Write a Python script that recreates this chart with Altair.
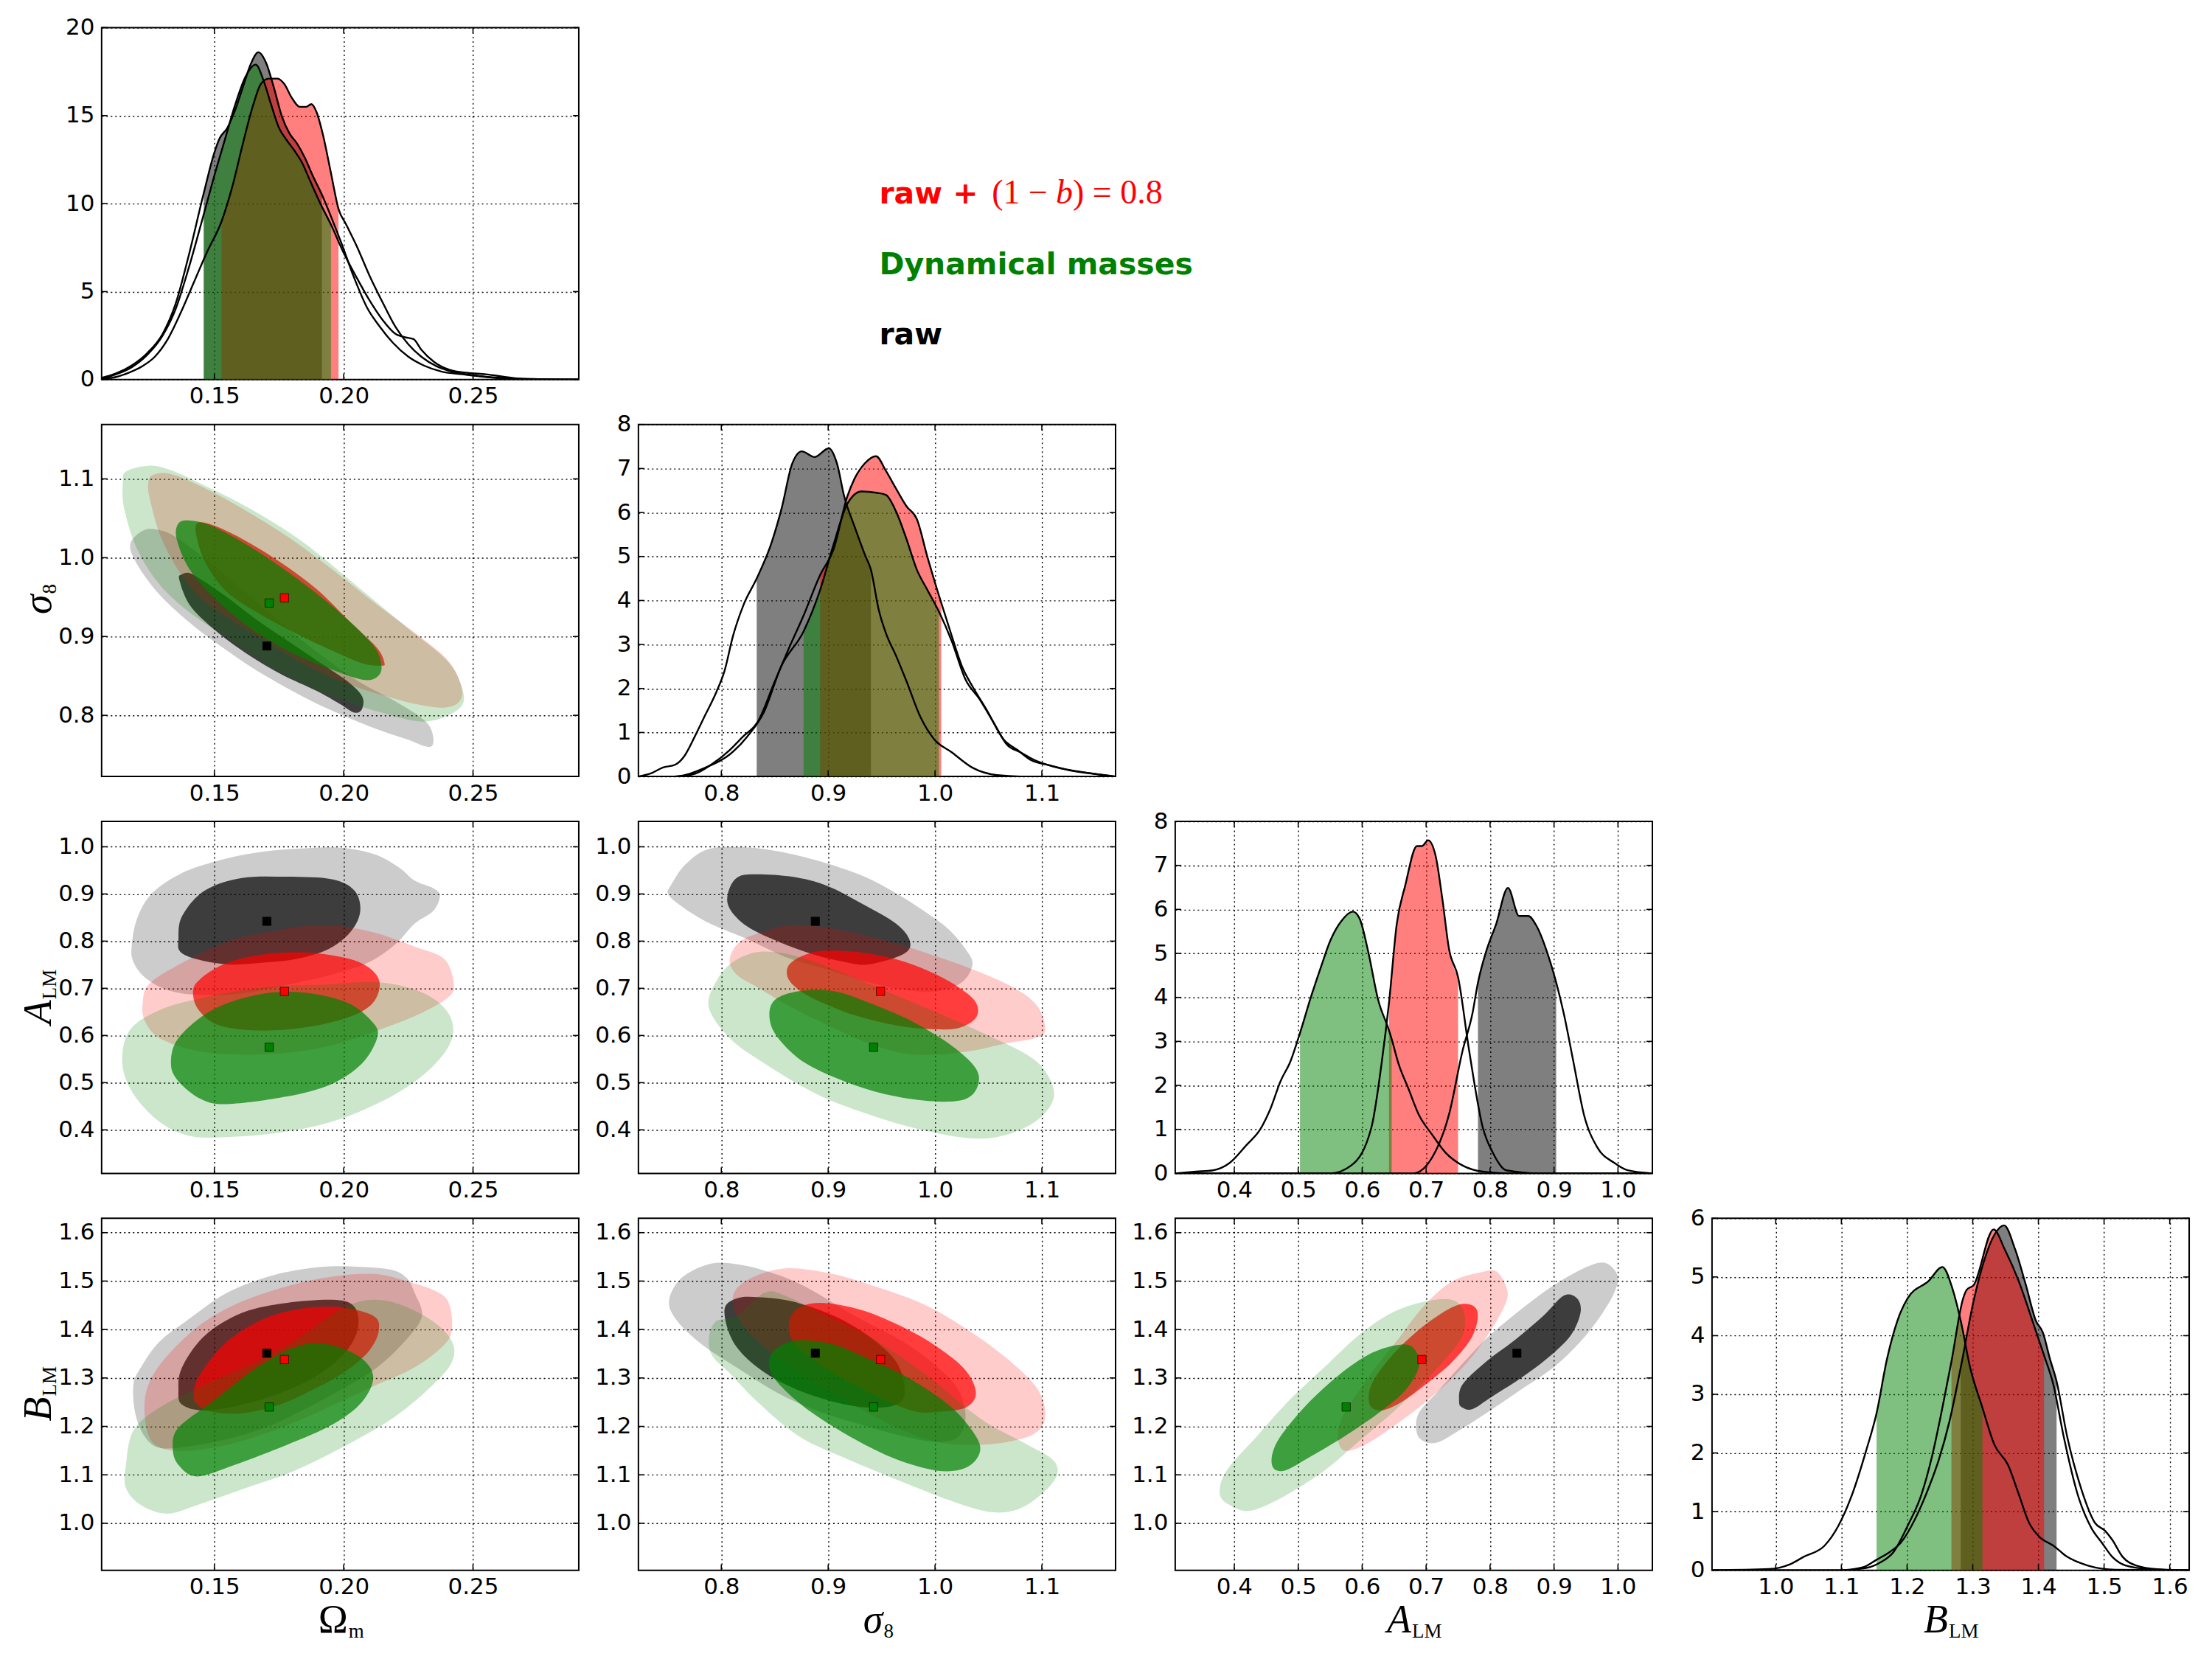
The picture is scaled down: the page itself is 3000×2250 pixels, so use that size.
import altair as alt
import pandas as pd

# panel geometry (pixels)
W, H = 648, 478
GAP_X, GAP_Y = 81, 61
LEFT, TOP = 136, 34
CANVAS_W, CANVAS_H = 3000, 2250
TICK_LEN = 8

# ---------------- parameter ranges and ticks ----------------
OM_RANGE = [0.1064, 0.2909]
S8_RANGE = [0.7224, 1.1690]
ALM_RANGE = [0.3077, 1.0538]
BLM_RANGE = [0.9030, 1.6296]
OM_TICKS = [0.15, 0.20, 0.25]
S8_TICKS = [0.8, 0.9, 1.0, 1.1]
ALM_TICKS = [0.4, 0.5, 0.6, 0.7, 0.8, 0.9, 1.0]
BLM_TICKS = [1.0, 1.1, 1.2, 1.3, 1.4, 1.5, 1.6]

OM_PDF_TICKS = [0, 5, 10, 15, 20]
S8_PDF_TICKS = [0, 1, 2, 3, 4, 5, 6, 7, 8]
ALM_PDF_TICKS = [0, 1, 2, 3, 4, 5, 6, 7, 8]
BLM_PDF_TICKS = [0, 1, 2, 3, 4, 5, 6]

# samples: raw, raw + (1-b)=0.8, dynamical masses
SAMPLE_COLORS = ["black", "red", "green"]

# best-fit values (Omega_m, sigma_8, A_LM, B_LM)
RAW_BEST = [0.1703, 0.8880, 0.8420, 1.3510]
BIAS_BEST = [0.1771, 0.9490, 0.6935, 1.3380]
DYN_BEST = [0.1712, 0.9425, 0.5750, 1.2400]

# ---------------- 1D marginal posteriors ----------------
OM_RAW_PDF = [(0.1064, 0.1), (0.112, 0.35), (0.118, 0.8), (0.124, 1.5), (0.130, 2.6), (0.135, 4.3),
              (0.140, 7.0), (0.1459, 10.6), (0.150, 12.9), (0.152, 13.7), (0.155, 14.3), (0.158, 15.3),
              (0.161, 16.6), (0.164, 17.9), (0.167, 18.6), (0.170, 18.0), (0.173, 16.6), (0.176, 15.0),
              (0.179, 14.0), (0.182, 13.4), (0.185, 12.6), (0.188, 11.6), (0.1916, 10.5), (0.195, 9.3),
              (0.199, 7.8), (0.204, 5.8), (0.209, 4.1), (0.214, 3.0), (0.219, 2.1), (0.225, 1.3),
              (0.231, 0.8), (0.238, 0.45), (0.246, 0.3), (0.255, 0.15), (0.265, 0.05), (0.2909, 0.0)]
OM_RAW_CI = (0.1459, 0.1916)
OM_BIAS_PDF = [(0.1064, 0.02), (0.112, 0.15), (0.117, 0.4), (0.122, 0.75), (0.127, 1.3), (0.132, 2.3),
               (0.137, 3.8), (0.142, 5.5), (0.147, 7.2), (0.1528, 9.0), (0.157, 11.0), (0.161, 13.4),
               (0.165, 15.6), (0.168, 16.8), (0.171, 17.1), (0.1745, 17.1), (0.177, 16.8), (0.180, 16.0),
               (0.183, 15.5), (0.1855, 15.5), (0.1875, 15.65), (0.1895, 15.2), (0.192, 13.9), (0.195, 11.8),
               (0.198, 9.7), (0.201, 8.8), (0.205, 7.6), (0.210, 5.9), (0.215, 4.4), (0.220, 3.0),
               (0.225, 2.0), (0.230, 1.3), (0.236, 0.75), (0.242, 0.45), (0.250, 0.25), (0.258, 0.12),
               (0.268, 0.04), (0.2909, 0.0)]
OM_BIAS_CI = (0.1528, 0.198)
OM_DYN_PDF = [(0.1064, 0.05), (0.112, 0.3), (0.118, 0.7), (0.124, 1.4), (0.130, 2.5), (0.135, 4.0),
              (0.140, 6.3), (0.1459, 9.4), (0.150, 11.6), (0.154, 13.6), (0.158, 15.6), (0.162, 17.2),
              (0.166, 17.9), (0.169, 17.0), (0.172, 15.6), (0.175, 14.3), (0.178, 13.6), (0.181, 13.0),
              (0.184, 12.3), (0.187, 11.3), (0.191, 10.0), (0.1951, 8.8), (0.200, 7.2), (0.205, 5.8),
              (0.210, 4.5), (0.215, 3.4), (0.220, 2.6), (0.224, 2.4), (0.227, 2.3), (0.230, 1.7),
              (0.235, 1.0), (0.241, 0.55), (0.248, 0.38), (0.255, 0.3), (0.260, 0.2), (0.268, 0.06),
              (0.2909, 0.0)]
OM_DYN_CI = (0.1459, 0.1951)

S8_RAW_PDF = [(0.7224, 0.0), (0.735, 0.08), (0.745, 0.2), (0.757, 0.27), (0.765, 0.45), (0.775, 0.9),
              (0.785, 1.4), (0.795, 1.9), (0.803, 2.4), (0.811, 3.2), (0.8208, 3.9), (0.8331, 4.5),
              (0.8468, 5.3), (0.8565, 6.1), (0.8662, 7.1), (0.8753, 7.39), (0.8873, 7.26), (0.9006, 7.46),
              (0.9084, 7.1), (0.915, 6.37), (0.9247, 5.68), (0.9344, 5.04), (0.940, 4.7), (0.9474, 3.78),
              (0.954, 3.26), (0.9636, 2.74), (0.9734, 2.16), (0.9864, 1.35), (0.9994, 0.84), (1.0156, 0.55),
              (1.035, 0.2), (1.058, 0.03), (1.08, 0.0), (1.169, 0.0)]
S8_RAW_CI = (0.8331, 0.940)
S8_BIAS_PDF = [(0.7224, 0.0), (0.756, 0.0), (0.775, 0.06), (0.79, 0.26), (0.8078, 0.6), (0.82, 0.9),
               (0.834, 1.24), (0.85, 2.16), (0.863, 2.9), (0.877, 3.66), (0.8925, 4.58), (0.905, 5.16),
               (0.918, 6.37), (0.9247, 6.77), (0.9344, 7.12), (0.9448, 7.28), (0.954, 6.95), (0.9636, 6.54),
               (0.9734, 6.14), (0.983, 5.85), (0.9929, 4.99), (1.0036, 4.12), (1.0058, 3.95), (1.0156, 3.2),
               (1.0253, 2.5), (1.035, 2.05), (1.048, 1.53), (1.0643, 0.84), (1.0773, 0.6), (1.09, 0.37),
               (1.1065, 0.26), (1.126, 0.14), (1.1487, 0.06), (1.169, 0.0)]
S8_BIAS_CI = (0.8925, 1.0058)
S8_DYN_PDF = [(0.7224, 0.0), (0.756, 0.0), (0.785, 0.2), (0.8078, 0.5), (0.824, 0.9), (0.84, 1.47),
              (0.856, 2.5), (0.877, 3.3), (0.8925, 4.24), (0.905, 5.27), (0.918, 6.2), (0.9312, 6.48),
              (0.945, 6.45), (0.954, 6.4), (0.9636, 6.02), (0.9734, 5.39), (0.983, 4.7), (0.9929, 4.24),
              (1.0036, 3.75), (1.0156, 3.08), (1.0286, 2.2), (1.0416, 1.76), (1.0545, 1.24), (1.0675, 0.72),
              (1.08, 0.55), (1.0935, 0.37), (1.11, 0.23), (1.1325, 0.12), (1.169, 0.0)]
S8_DYN_CI = (0.877, 1.0036)

ALM_RAW_PDF = [(0.3077, 0.0), (0.68, 0.0), (0.7094, 0.36), (0.7358, 1.34), (0.7569, 2.78), (0.7727, 3.65),
               (0.7811, 4.34), (0.7938, 5.04), (0.8096, 5.67), (0.828, 6.49), (0.8454, 5.85), (0.8597, 5.85),
               (0.8728, 5.62), (0.8887, 5.05), (0.9034, 4.34), (0.915, 3.65), (0.9308, 2.5), (0.9467, 1.34),
               (0.9677, 0.59), (0.9941, 0.24), (1.0152, 0.07), (1.0538, 0.0)]
ALM_RAW_CI = (0.7811, 0.9034)
ALM_BIAS_PDF = [(0.3077, 0.0), (0.55, 0.0), (0.5829, 0.18), (0.6146, 1.05), (0.6304, 2.5), (0.642, 3.88),
                (0.6541, 5.67), (0.6673, 6.54), (0.6857, 7.44), (0.6936, 7.44), (0.7031, 7.57), (0.7147, 7.23),
                (0.7253, 6.25), (0.7358, 5.1), (0.75, 4.46), (0.7674, 2.78), (0.7885, 1.05), (0.8043, 0.47),
                (0.8254, 0.07), (0.878, 0.0), (1.0538, 0.0)]
ALM_BIAS_CI = (0.642, 0.75)
ALM_DYN_PDF = [(0.3077, 0.0), (0.34, 0.04), (0.3668, 0.07), (0.3931, 0.24), (0.4195, 0.65), (0.4406, 1.0),
               (0.4564, 1.46), (0.4722, 2.09), (0.488, 2.55), (0.5028, 3.19), (0.5197, 4.0), (0.5355, 4.69),
               (0.5514, 5.33), (0.5672, 5.73), (0.5856, 5.95), (0.5961, 5.79), (0.6093, 5.05), (0.6251, 3.94),
               (0.642, 3.25), (0.6462, 3.05), (0.6567, 2.5), (0.6725, 1.92), (0.6884, 1.34), (0.7094, 0.88),
               (0.7305, 0.47), (0.7569, 0.18), (0.7885, 0.04), (0.83, 0.0), (1.0538, 0.0)]
ALM_DYN_CI = (0.5028, 0.6462)

BLM_RAW_PDF = [(0.903, 0.0), (1.0955, 0.0), (1.1325, 0.05), (1.1536, 0.18), (1.1747, 0.32), (1.1905, 0.47),
               (1.2116, 0.86), (1.2327, 1.4), (1.2485, 1.89), (1.2644, 2.53), (1.2818, 3.46), (1.3013, 4.59),
               (1.3171, 5.27), (1.333, 5.72), (1.3478, 5.88), (1.3646, 5.47), (1.3805, 4.88), (1.3963, 4.25),
               (1.4069, 4.05), (1.4174, 3.61), (1.4277, 3.22), (1.4438, 2.28), (1.4649, 1.4), (1.486, 0.81),
               (1.5018, 0.67), (1.5124, 0.52), (1.5282, 0.23), (1.5493, 0.08), (1.581, 0.02), (1.6296, 0.0)]
BLM_RAW_CI = (1.2818, 1.4277)
BLM_BIAS_PDF = [(0.903, 0.0), (1.0955, 0.0), (1.1377, 0.04), (1.1588, 0.13), (1.18, 0.32), (1.201, 0.76),
                (1.2222, 1.3), (1.238, 1.94), (1.2538, 2.77), (1.2676, 3.56), (1.2855, 4.64), (1.2908, 4.78),
                (1.3013, 4.86), (1.3319, 5.81), (1.3488, 5.47), (1.37, 4.93), (1.391, 4.25), (1.4087, 3.66),
                (1.4227, 3.17), (1.4385, 2.28), (1.4596, 1.3), (1.4807, 0.72), (1.4966, 0.47), (1.5124, 0.23),
                (1.5335, 0.08), (1.5704, 0.02), (1.6296, 0.0)]
BLM_BIAS_CI = (1.2676, 1.4087)
BLM_DYN_PDF = [(0.903, 0.0), (0.99, 0.02), (1.0216, 0.1), (1.0427, 0.23), (1.0744, 0.42), (1.0955, 0.76),
               (1.1166, 1.3), (1.1377, 2.04), (1.1536, 2.68), (1.1694, 3.6), (1.1852, 4.25), (1.201, 4.64),
               (1.2327, 4.93), (1.2538, 5.17), (1.2697, 4.78), (1.2818, 4.25), (1.296, 3.46), (1.3148, 2.77),
               (1.333, 2.14), (1.354, 1.79), (1.37, 1.3), (1.3858, 0.81), (1.4016, 0.57), (1.4227, 0.42),
               (1.4438, 0.23), (1.4755, 0.08), (1.5177, 0.01), (1.6296, 0.0)]
BLM_DYN_CI = (1.1536, 1.3148)

# ---------------- 2D credible regions (95% outer, 68% inner) ----------------
OM_S8_RAW_95 = [(0.1230, 1.0353), (0.1303, 1.0337), (0.1375, 1.0208), (0.1491, 0.9918), (0.1607, 0.9596),
                (0.1723, 0.9274), (0.1839, 0.8952), (0.1955, 0.8662), (0.2071, 0.8404), (0.2216, 0.8147),
                (0.2317, 0.7921), (0.2346, 0.7728), (0.2332, 0.7599), (0.2245, 0.7696), (0.2129, 0.7824),
                (0.1984, 0.8018), (0.1839, 0.8243), (0.1665, 0.8565), (0.1520, 0.8887), (0.1404, 0.9177),
                (0.1288, 0.9531), (0.1201, 0.9918), (0.1175, 1.0176)]
OM_S8_RAW_68 = [(0.1375, 0.9789), (0.1404, 0.9805), (0.1448, 0.9725), (0.1549, 0.9499), (0.1665, 0.9209),
                (0.1781, 0.8952), (0.1912, 0.8662), (0.2013, 0.8436), (0.2071, 0.8243), (0.2071, 0.8082),
                (0.2042, 0.8034), (0.1984, 0.8147), (0.1897, 0.8308), (0.1752, 0.8533), (0.1607, 0.8823),
                (0.1491, 0.9113), (0.1404, 0.9403), (0.1364, 0.9725)]
OM_S8_BIAS_95 = [(0.1259, 1.1045), (0.1332, 1.1061), (0.1462, 1.0884), (0.1607, 1.0626), (0.1781, 1.0272),
                 (0.1955, 0.9853), (0.2129, 0.9403), (0.2288, 0.9016), (0.2404, 0.8694), (0.2455, 0.8372),
                 (0.2448, 0.8179), (0.2390, 0.8098), (0.2274, 0.8147), (0.2129, 0.8275), (0.1984, 0.8436),
                 (0.1839, 0.8662), (0.1694, 0.8952), (0.1549, 0.9242), (0.1433, 0.9531), (0.1346, 0.9918),
                 (0.1288, 1.0305), (0.1252, 1.0724), (0.1244, 1.0917)]
OM_S8_BIAS_68 = [(0.1433, 1.0433), (0.1491, 1.0417), (0.1607, 1.0240), (0.1752, 0.9950), (0.1897, 0.9596),
                 (0.2027, 0.9177), (0.2129, 0.8855), (0.2158, 0.8662), (0.2143, 0.8630), (0.2071, 0.8662),
                 (0.1955, 0.8823), (0.1810, 0.9048), (0.1665, 0.9306), (0.1549, 0.9564), (0.1469, 0.9918),
                 (0.1433, 1.0240)]
OM_S8_DYN_95 = [(0.1158, 1.1093), (0.1245, 1.1167), (0.1332, 1.1110), (0.1462, 1.0916), (0.1636, 1.0626),
                (0.1839, 1.0208), (0.2056, 0.9628), (0.2245, 0.9113), (0.2390, 0.8726), (0.2448, 0.8436),
                (0.2455, 0.8114), (0.2317, 0.7921), (0.2129, 0.8050), (0.1984, 0.8211), (0.1839, 0.8404),
                (0.1694, 0.8662), (0.1549, 0.8984), (0.1404, 0.9306), (0.1288, 0.9660), (0.1201, 1.0111),
                (0.1151, 1.0626), (0.1146, 1.0948)]
OM_S8_DYN_68 = [(0.1361, 1.0433), (0.1404, 1.0472), (0.1491, 1.0401), (0.1636, 1.0143), (0.1810, 0.9757),
                (0.1984, 0.9306), (0.2114, 0.8887), (0.2146, 0.8630), (0.2129, 0.8485), (0.2071, 0.8453),
                (0.1941, 0.8597), (0.1781, 0.8823), (0.1636, 0.9113), (0.1506, 0.9467), (0.1404, 0.9853),
                (0.1354, 1.0240)]

OM_ALM_RAW_95 = [(0.1912, 0.9984), (0.2028, 0.9957), (0.2129, 0.9822), (0.2216, 0.9553), (0.2274, 0.9284),
                 (0.2346, 0.9122), (0.2372, 0.8961), (0.2346, 0.8638), (0.2274, 0.8368), (0.2201, 0.7938),
                 (0.2100, 0.7561), (0.1955, 0.7291), (0.1781, 0.7076), (0.1607, 0.6887), (0.1433, 0.6861),
                 (0.1317, 0.6968), (0.1230, 0.7237), (0.1187, 0.7561), (0.1180, 0.7884), (0.1201, 0.8476),
                 (0.1259, 0.9015), (0.1375, 0.9445), (0.1520, 0.9715), (0.1694, 0.9903)]
OM_ALM_RAW_68 = [(0.1361, 0.8045), (0.1375, 0.8530), (0.1462, 0.9068), (0.1607, 0.9338), (0.1781, 0.9365),
                 (0.1955, 0.9311), (0.2042, 0.9068), (0.2064, 0.8638), (0.2028, 0.8207), (0.1941, 0.7830),
                 (0.1810, 0.7614), (0.1665, 0.7534), (0.1549, 0.7507), (0.1433, 0.7614), (0.1368, 0.7776)]
OM_ALM_BIAS_95 = [(0.1223, 0.6699), (0.1245, 0.7076), (0.1346, 0.7453), (0.1549, 0.7991), (0.1723, 0.8207),
                  (0.1912, 0.8341), (0.2100, 0.8207), (0.2274, 0.7884), (0.2390, 0.7614), (0.2426, 0.7076),
                  (0.2404, 0.6807), (0.2303, 0.6484), (0.2158, 0.6161), (0.1984, 0.5837), (0.1810, 0.5649),
                  (0.1607, 0.5595), (0.1433, 0.5676), (0.1288, 0.5945), (0.1230, 0.6322)]
OM_ALM_BIAS_68 = [(0.1419, 0.6807), (0.1433, 0.7130), (0.1535, 0.7507), (0.1694, 0.7722), (0.1883, 0.7749),
                  (0.2057, 0.7561), (0.2136, 0.7184), (0.2114, 0.6699), (0.2013, 0.6376), (0.1839, 0.6161),
                  (0.1665, 0.6107), (0.1520, 0.6214), (0.1448, 0.6484)]
OM_ALM_DYN_95 = [(0.1144, 0.5407), (0.1172, 0.6107), (0.1288, 0.6538), (0.1462, 0.6807), (0.1694, 0.7022),
                 (0.1912, 0.7076), (0.2129, 0.7130), (0.2303, 0.6914), (0.2404, 0.6484), (0.2419, 0.5945),
                 (0.2346, 0.5353), (0.2201, 0.4760), (0.1984, 0.4222), (0.1767, 0.3953), (0.1549, 0.3845),
                 (0.1404, 0.3872), (0.1288, 0.4168), (0.1187, 0.4760)]
OM_ALM_DYN_68 = [(0.1332, 0.5407), (0.1361, 0.5945), (0.1491, 0.6538), (0.1665, 0.6861), (0.1839, 0.6914),
                 (0.2013, 0.6699), (0.2114, 0.6268), (0.2129, 0.5945), (0.2071, 0.5407), (0.1955, 0.4976),
                 (0.1781, 0.4707), (0.1549, 0.4545), (0.1448, 0.4653), (0.1361, 0.5030)]

S8_ALM_RAW_95 = [(0.7526, 0.9176), (0.7656, 0.9607), (0.7851, 0.9930), (0.8110, 0.9995), (0.8468, 0.9930),
                 (0.8890, 0.9715), (0.9312, 0.9392), (0.9636, 0.9015), (0.9896, 0.8638), (1.0123, 0.8261),
                 (1.0286, 0.7830), (1.0351, 0.7507), (1.0253, 0.7130), (1.0026, 0.6941), (0.9701, 0.6968),
                 (0.9377, 0.7130), (0.8987, 0.7399), (0.8597, 0.7668), (0.8240, 0.8045), (0.7851, 0.8422),
                 (0.7591, 0.8799), (0.7500, 0.9015)]
S8_ALM_RAW_68 = [(0.8062, 0.9015), (0.8143, 0.9338), (0.8305, 0.9418), (0.8662, 0.9365), (0.8987, 0.9176),
                 (0.9312, 0.8799), (0.9636, 0.8368), (0.9766, 0.7991), (0.9701, 0.7722), (0.9377, 0.7507),
                 (0.9149, 0.7561), (0.8857, 0.7722), (0.8532, 0.7991), (0.8240, 0.8314), (0.8078, 0.8692)]
S8_ALM_BIAS_95 = [(0.8078, 0.7614), (0.8175, 0.7991), (0.8403, 0.8207), (0.8662, 0.8341), (0.9052, 0.8261),
                  (0.9571, 0.7991), (1.0026, 0.7668), (1.0416, 0.7345), (1.0773, 0.6968), (1.0968, 0.6591),
                  (1.1032, 0.6107), (1.0935, 0.5945), (1.0675, 0.5837), (1.0351, 0.5676), (1.0026, 0.5595),
                  (0.9701, 0.5622), (0.9377, 0.5837), (0.9052, 0.6160), (0.8662, 0.6591), (0.8338, 0.7022),
                  (0.8143, 0.7291)]
S8_ALM_BIAS_68 = [(0.8614, 0.7291), (0.8662, 0.7561), (0.8890, 0.7776), (0.9247, 0.7776), (0.9636, 0.7614),
                  (0.9961, 0.7345), (1.0221, 0.7022), (1.0383, 0.6699), (1.0383, 0.6376), (1.0221, 0.6160),
                  (0.9961, 0.6134), (0.9636, 0.6214), (0.9247, 0.6430), (0.8890, 0.6753), (0.8695, 0.7022)]
S8_ALM_DYN_95 = [(0.7883, 0.6591), (0.7948, 0.7130), (0.8110, 0.7561), (0.8370, 0.7776), (0.8727, 0.7668),
                 (0.9117, 0.7345), (0.9571, 0.6914), (1.0026, 0.6484), (1.0448, 0.6053), (1.0838, 0.5622),
                 (1.1032, 0.5245), (1.1114, 0.4707), (1.0968, 0.4222), (1.0675, 0.3899), (1.0351, 0.3818),
                 (0.9864, 0.4006), (0.9377, 0.4330), (0.8890, 0.4760), (0.8403, 0.5407), (0.8078, 0.5945)]
S8_ALM_DYN_68 = [(0.8451, 0.6376), (0.8500, 0.6753), (0.8727, 0.6941), (0.9052, 0.6941), (0.9377, 0.6699),
                 (0.9766, 0.6322), (1.0156, 0.5784), (1.0383, 0.5299), (1.0399, 0.4922), (1.0286, 0.4653),
                 (1.0026, 0.4599), (0.9636, 0.4707), (0.9214, 0.4976), (0.8792, 0.5407), (0.8532, 0.5945)]

OM_BLM_RAW_95 = [(0.1187, 1.2863), (0.1216, 1.3218), (0.1288, 1.3751), (0.1404, 1.4225), (0.1549, 1.4758),
                 (0.1723, 1.5114), (0.1912, 1.5291), (0.2071, 1.5291), (0.2187, 1.5232), (0.2245, 1.5055),
                 (0.2274, 1.4758), (0.2303, 1.4284), (0.2245, 1.3810), (0.2129, 1.3218), (0.1984, 1.2744),
                 (0.1839, 1.2329), (0.1694, 1.1974), (0.1549, 1.1737), (0.1404, 1.1589), (0.1288, 1.1559),
                 (0.1230, 1.1796), (0.1194, 1.2270)]
OM_BLM_RAW_68 = [(0.1361, 1.2744), (0.1375, 1.3218), (0.1462, 1.3870), (0.1607, 1.4344), (0.1781, 1.4551),
                 (0.1970, 1.4610), (0.2042, 1.4462), (0.2056, 1.4047), (0.2013, 1.3573), (0.1912, 1.3100),
                 (0.1781, 1.2744), (0.1607, 1.2448), (0.1462, 1.2329), (0.1375, 1.2448)]
OM_BLM_BIAS_95 = [(0.1230, 1.2270), (0.1245, 1.2863), (0.1317, 1.3455), (0.1448, 1.4107), (0.1607, 1.4581),
                  (0.1810, 1.4936), (0.1984, 1.5114), (0.2129, 1.5143), (0.2245, 1.4995), (0.2346, 1.4818),
                  (0.2404, 1.4581), (0.2419, 1.4047), (0.2390, 1.3692), (0.2274, 1.3218), (0.2129, 1.2863),
                  (0.1984, 1.2507), (0.1839, 1.2152), (0.1665, 1.1796), (0.1491, 1.1559), (0.1346, 1.1500),
                  (0.1259, 1.1678)]
OM_BLM_BIAS_68 = [(0.1419, 1.2685), (0.1448, 1.3100), (0.1549, 1.3751), (0.1694, 1.4225), (0.1839, 1.4432),
                  (0.1984, 1.4462), (0.2114, 1.4284), (0.2136, 1.3988), (0.2100, 1.3573), (0.2013, 1.3159),
                  (0.1897, 1.2803), (0.1752, 1.2448), (0.1607, 1.2270), (0.1491, 1.2300), (0.1433, 1.2448)]
OM_BLM_DYN_95 = [(0.1158, 1.1204), (0.1187, 1.1915), (0.1288, 1.2389), (0.1462, 1.2863), (0.1665, 1.3337),
                 (0.1839, 1.3870), (0.1984, 1.4403), (0.2100, 1.4610), (0.2216, 1.4521), (0.2346, 1.4166),
                 (0.2419, 1.3751), (0.2419, 1.3337), (0.2346, 1.2863), (0.2201, 1.2211), (0.2013, 1.1619),
                 (0.1810, 1.1085), (0.1622, 1.0730), (0.1433, 1.0374), (0.1317, 1.0197), (0.1216, 1.0374),
                 (0.1158, 1.0730)]
OM_BLM_DYN_68 = [(0.1339, 1.1559), (0.1361, 1.1974), (0.1491, 1.2507), (0.1665, 1.3218), (0.1810, 1.3633),
                 (0.1926, 1.3704), (0.2056, 1.3455), (0.2114, 1.3040), (0.2071, 1.2507), (0.1955, 1.2033),
                 (0.1781, 1.1619), (0.1578, 1.1204), (0.1433, 1.0967), (0.1361, 1.1204)]

S8_BLM_RAW_95 = [(0.7510, 1.4581), (0.7623, 1.5055), (0.7883, 1.5351), (0.8143, 1.5351), (0.8468, 1.5173),
                 (0.8792, 1.4877), (0.9247, 1.4284), (0.9701, 1.3751), (1.0026, 1.3218), (1.0221, 1.2744),
                 (1.0286, 1.2211), (1.0221, 1.1796), (1.0026, 1.1678), (0.9701, 1.1796), (0.9312, 1.2033),
                 (0.8890, 1.2329), (0.8532, 1.2685), (0.8143, 1.3218), (0.7818, 1.3692), (0.7591, 1.4166)]
S8_BLM_RAW_68 = [(0.8029, 1.4403), (0.8143, 1.4640), (0.8338, 1.4669), (0.8662, 1.4581), (0.9052, 1.4284),
                 (0.9377, 1.3870), (0.9636, 1.3337), (0.9718, 1.2744), (0.9636, 1.2448), (0.9377, 1.2389),
                 (0.9052, 1.2507), (0.8662, 1.2803), (0.8338, 1.3218), (0.8110, 1.3751)]
S8_BLM_BIAS_95 = [(0.8110, 1.4699), (0.8273, 1.5055), (0.8597, 1.5262), (0.8987, 1.5173), (0.9377, 1.4936),
                  (0.9896, 1.4521), (1.0351, 1.3929), (1.0740, 1.3277), (1.0968, 1.2744), (1.1032, 1.2211),
                  (1.0935, 1.1855), (1.0675, 1.1678), (1.0351, 1.1619), (1.0026, 1.1678), (0.9701, 1.1915),
                  (0.9377, 1.2270), (0.9052, 1.2685), (0.8727, 1.3100), (0.8403, 1.3633), (0.8175, 1.4166)]
S8_BLM_BIAS_68 = [(0.8630, 1.4047), (0.8695, 1.4403), (0.8922, 1.4551), (0.9312, 1.4403), (0.9701, 1.4047),
                  (1.0026, 1.3633), (1.0286, 1.3159), (1.0383, 1.2685), (1.0286, 1.2389), (1.0026, 1.2300),
                  (0.9831, 1.2300), (0.9571, 1.2507), (0.9247, 1.2863), (0.8922, 1.3277), (0.8695, 1.3692)]
S8_BLM_DYN_95 = [(0.7883, 1.3810), (0.7948, 1.4166), (0.8143, 1.4284), (0.8403, 1.4758), (0.8597, 1.4700),
                 (0.8987, 1.4284), (0.9377, 1.3870), (0.9896, 1.3100), (1.0221, 1.2507), (1.0513, 1.2033),
                 (1.0870, 1.1618), (1.1097, 1.1322), (1.1146, 1.1026), (1.1032, 1.0671), (1.0805, 1.0315),
                 (1.0545, 1.0226), (1.0188, 1.0434), (0.9701, 1.0848), (0.9182, 1.1322), (0.8727, 1.1796),
                 (0.8338, 1.2507), (0.8078, 1.3100), (0.7916, 1.3455)]
S8_BLM_DYN_68 = [(0.8451, 1.3396), (0.8532, 1.3633), (0.8727, 1.3781), (0.9052, 1.3692), (0.9377, 1.3396),
                 (0.9766, 1.2981), (1.0156, 1.2389), (1.0383, 1.1796), (1.0416, 1.1441), (1.0286, 1.1144),
                 (1.0026, 1.1085), (0.9636, 1.1322), (0.9247, 1.1737), (0.8857, 1.2270), (0.8597, 1.2744),
                 (0.8468, 1.3100)]

ALM_BLM_RAW_95 = [(0.6857, 1.1855), (0.6883, 1.2270), (0.7200, 1.2744), (0.7516, 1.3218), (0.7938, 1.3810),
                  (0.8360, 1.4284), (0.8887, 1.4818), (0.9414, 1.5232), (0.9783, 1.5380), (0.9994, 1.5114),
                  (0.9941, 1.4758), (0.9730, 1.4284), (0.9414, 1.3751), (0.8992, 1.3218), (0.8465, 1.2744),
                  (0.7938, 1.2270), (0.7516, 1.1915), (0.7200, 1.1678), (0.6989, 1.1678)]
ALM_BLM_RAW_68 = [(0.7516, 1.2507), (0.7569, 1.2863), (0.7938, 1.3337), (0.8412, 1.3810), (0.8834, 1.4284),
                  (0.9151, 1.4699), (0.9362, 1.4640), (0.9414, 1.4344), (0.9256, 1.3870), (0.8887, 1.3396),
                  (0.8465, 1.2981), (0.8043, 1.2626), (0.7727, 1.2359), (0.7569, 1.2389)]
ALM_BLM_BIAS_95 = [(0.5618, 1.1796), (0.5724, 1.2270), (0.6146, 1.3100), (0.6567, 1.3810), (0.6989, 1.4521),
                   (0.7411, 1.4995), (0.7832, 1.5173), (0.8096, 1.5203), (0.8254, 1.4877), (0.8254, 1.4581),
                   (0.8043, 1.4047), (0.7727, 1.3455), (0.7305, 1.2863), (0.6884, 1.2389), (0.6462, 1.1974),
                   (0.6040, 1.1618), (0.5724, 1.1500)]
ALM_BLM_BIAS_68 = [(0.6119, 1.2448), (0.6146, 1.2863), (0.6462, 1.3455), (0.6936, 1.4047), (0.7411, 1.4462),
                   (0.7674, 1.4521), (0.7806, 1.4344), (0.7727, 1.3870), (0.7411, 1.3337), (0.6989, 1.2863),
                   (0.6620, 1.2507), (0.6304, 1.2330)]
ALM_BLM_DYN_95 = [(0.3773, 1.0611), (0.3878, 1.1085), (0.4353, 1.1796), (0.4880, 1.2566), (0.5407, 1.3218),
                  (0.5935, 1.3870), (0.6462, 1.4344), (0.6989, 1.4581), (0.7411, 1.4610), (0.7595, 1.4344),
                  (0.7569, 1.3870), (0.7305, 1.3396), (0.6884, 1.2803), (0.6462, 1.2270), (0.5935, 1.1678),
                  (0.5407, 1.1085), (0.4775, 1.0552), (0.4248, 1.0256), (0.3931, 1.0374)]
ALM_BLM_DYN_68 = [(0.4590, 1.1204), (0.4669, 1.1678), (0.5091, 1.2389), (0.5618, 1.3040), (0.6146, 1.3514),
                  (0.6620, 1.3692), (0.6831, 1.3573), (0.6884, 1.3218), (0.6673, 1.2744), (0.6251, 1.2270),
                  (0.5724, 1.1796), (0.5197, 1.1381), (0.4775, 1.1085)]

# ---------------- lookup tables ----------------
PARAMS = ["om", "s8", "alm", "blm"]
AXES = {
    "om": (OM_RANGE, OM_TICKS, ".2f"),
    "s8": (S8_RANGE, S8_TICKS, ".1f"),
    "alm": (ALM_RANGE, ALM_TICKS, ".1f"),
    "blm": (BLM_RANGE, BLM_TICKS, ".1f"),
}
PDF_AXES = {"om": (20, OM_PDF_TICKS), "s8": (8, S8_PDF_TICKS),
            "alm": (8, ALM_PDF_TICKS), "blm": (6, BLM_PDF_TICKS)}
PDFS = {
    "om": [(OM_RAW_PDF, OM_RAW_CI), (OM_BIAS_PDF, OM_BIAS_CI), (OM_DYN_PDF, OM_DYN_CI)],
    "s8": [(S8_RAW_PDF, S8_RAW_CI), (S8_BIAS_PDF, S8_BIAS_CI), (S8_DYN_PDF, S8_DYN_CI)],
    "alm": [(ALM_RAW_PDF, ALM_RAW_CI), (ALM_BIAS_PDF, ALM_BIAS_CI), (ALM_DYN_PDF, ALM_DYN_CI)],
    "blm": [(BLM_RAW_PDF, BLM_RAW_CI), (BLM_BIAS_PDF, BLM_BIAS_CI), (BLM_DYN_PDF, BLM_DYN_CI)],
}
CONTOURS = {
    ("om", "s8"): [(OM_S8_RAW_95, OM_S8_RAW_68), (OM_S8_BIAS_95, OM_S8_BIAS_68), (OM_S8_DYN_95, OM_S8_DYN_68)],
    ("om", "alm"): [(OM_ALM_RAW_95, OM_ALM_RAW_68), (OM_ALM_BIAS_95, OM_ALM_BIAS_68), (OM_ALM_DYN_95, OM_ALM_DYN_68)],
    ("s8", "alm"): [(S8_ALM_RAW_95, S8_ALM_RAW_68), (S8_ALM_BIAS_95, S8_ALM_BIAS_68), (S8_ALM_DYN_95, S8_ALM_DYN_68)],
    ("om", "blm"): [(OM_BLM_RAW_95, OM_BLM_RAW_68), (OM_BLM_BIAS_95, OM_BLM_BIAS_68), (OM_BLM_DYN_95, OM_BLM_DYN_68)],
    ("s8", "blm"): [(S8_BLM_RAW_95, S8_BLM_RAW_68), (S8_BLM_BIAS_95, S8_BLM_BIAS_68), (S8_BLM_DYN_95, S8_BLM_DYN_68)],
    ("alm", "blm"): [(ALM_BLM_RAW_95, ALM_BLM_RAW_68), (ALM_BLM_BIAS_95, ALM_BLM_BIAS_68), (ALM_BLM_DYN_95, ALM_BLM_DYN_68)],
}
BEST = [RAW_BEST, BIAS_BEST, DYN_BEST]
# axis label pieces: symbol, subscript, symbol style, approx. widths (px) for centring
LABELS = {
    "om": ("Ω", "m", "normal", 42, 21),
    "s8": ("σ", "8", "italic", 30, 14),
    "alm": ("A", "LM", "italic", 33, 40),
    "blm": ("B", "LM", "italic", 33, 40),
}
MATH_FONT = "Liberation Serif"
SYM_SIZE, SUB_SIZE = 54, 27


def x_enc(p):
    rng, ticks, fmt = AXES[p]
    return alt.X("x:Q", title=None, scale=alt.Scale(domain=rng, nice=False, zero=False),
                 axis=alt.Axis(values=ticks, format=fmt))


def y_enc(p):
    rng, ticks, fmt = AXES[p]
    return alt.Y("y:Q", title=None, scale=alt.Scale(domain=rng, nice=False, zero=False),
                 axis=alt.Axis(values=ticks, format=fmt))


def y_pdf_enc(p):
    top, ticks = PDF_AXES[p]
    return alt.Y("y:Q", title=None, scale=alt.Scale(domain=[0, top], nice=False, zero=False),
                 axis=alt.Axis(values=ticks, format="d"))


ONE_ROW = pd.DataFrame({"t": [""]})


def text(s, x, y, size, color="black", font=MATH_FONT, style="normal", weight="normal",
         align="left", angle=0):
    return alt.Chart(pd.DataFrame({"t": [s]})).mark_text(
        align=align, baseline="alphabetic", font=font, fontSize=size, fontStyle=style,
        fontWeight=weight, color=color, angle=angle
    ).encode(x=alt.value(x), y=alt.value(y), text="t:N")


def x_label(p):
    sym, sub, style, wm, ws = LABELS[p]
    anchor = W / 2 - (wm + ws) / 2 + wm
    return [text(sym, anchor, H + 84, SYM_SIZE, style=style, align="right"),
            text(sub, anchor + 1, H + 91, SUB_SIZE, align="left")]


def y_label(p):
    sym, sub, style, wm, ws = LABELS[p]
    anchor = H / 2 + (wm + ws) / 2 - wm
    return [text(sym, -69, anchor, SYM_SIZE, style=style, align="right", angle=270),
            text(sub, -62, anchor - 1, SUB_SIZE, align="left", angle=270)]


def tick_layers(xenc, xticks, yenc, yticks):
    # short inward ticks on all four sides of a panel
    dx = pd.DataFrame({"x": xticks})
    dy = pd.DataFrame({"y": yticks})
    rule = dict(color="black", strokeWidth=1.6)
    return [
        alt.Chart(dx).mark_rule(**rule).encode(x=xenc, y=alt.value(H), y2=alt.value(H - TICK_LEN)),
        alt.Chart(dx).mark_rule(**rule).encode(x=xenc, y=alt.value(0), y2=alt.value(TICK_LEN)),
        alt.Chart(dy).mark_rule(**rule).encode(y=yenc, x=alt.value(0), x2=alt.value(TICK_LEN)),
        alt.Chart(dy).mark_rule(**rule).encode(y=yenc, x=alt.value(W - TICK_LEN), x2=alt.value(W)),
    ]


def pdf_layers(p):
    layers = []
    for (curve, ci), color in zip(PDFS[p], SAMPLE_COLORS):
        df = pd.DataFrame(curve, columns=["x", "y"])
        band = df[(df["x"] >= ci[0]) & (df["x"] <= ci[1])]
        layers.append(alt.Chart(band).mark_area(interpolate="monotone", color=color, opacity=0.5, clip=True)
                      .encode(x=x_enc(p), y=y_pdf_enc(p)))
    for curve, ci in PDFS[p]:
        df = pd.DataFrame(curve, columns=["x", "y"])
        layers.append(alt.Chart(df).mark_line(interpolate="monotone", color="black", strokeWidth=2.4, clip=True)
                      .encode(x=x_enc(p), y=y_pdf_enc(p)))
    layers += tick_layers(x_enc(p), AXES[p][1], y_pdf_enc(p), PDF_AXES[p][1])
    return layers


def contour_layers(px, py):
    layers = []
    for (outer, inner), color in zip(CONTOURS[(px, py)], SAMPLE_COLORS):
        for pts, alpha in ((outer, 0.2), (inner, 0.7)):
            df = pd.DataFrame(pts, columns=["x", "y"])
            df["i"] = range(len(df))
            layers.append(
                alt.Chart(df).mark_line(interpolate="cardinal-closed", strokeWidth=0, strokeOpacity=0, clip=True)
                .encode(x=x_enc(px), y=y_enc(py), order=alt.Order("i:Q"),
                        fill=alt.value(color), fillOpacity=alt.value(alpha)))
    ix, iy = PARAMS.index(px), PARAMS.index(py)
    best = pd.DataFrame({"x": [b[ix] for b in BEST], "y": [b[iy] for b in BEST], "c": SAMPLE_COLORS})
    layers.append(alt.Chart(best).mark_square(size=130, opacity=1, stroke="black", strokeWidth=0.6)
                  .encode(x=x_enc(px), y=y_enc(py), fill=alt.Fill("c:N", scale=None)))
    layers += tick_layers(x_enc(px), AXES[px][1], y_enc(py), AXES[py][1])
    return layers


def anchor_point(x, y):
    # invisible point that fixes the outer extent of the figure
    return alt.Chart(ONE_ROW).mark_point(size=1, opacity=0).encode(x=alt.value(x), y=alt.value(y))


def blank(extra=()):
    base = alt.Chart(ONE_ROW).mark_point(size=1, opacity=0).encode(x=alt.value(0), y=alt.value(0))
    return alt.layer(base, *extra).properties(width=W, height=H,
                                              view=alt.ViewBackground(stroke="transparent"))


# legend text block, placed inside the empty cell next to the first panel
LEGEND = [
    text("raw +", 327, 239, 41, color="red", font="DejaVu Sans", weight="bold"),
    text("(1 − ", 480, 239, 46, color="red"),
    text("b", 567, 239, 46, color="red", style="italic"),
    text(") = 0.8", 590, 239, 46, color="red"),
    text("Dynamical masses", 327, 335, 41, color="green", font="DejaVu Sans", weight="bold"),
    text("raw", 327, 430, 41, color="black", font="DejaVu Sans", weight="bold"),
]

cells = []
for r, py in enumerate(PARAMS):
    for c, px in enumerate(PARAMS):
        if c > r:
            cells.append(blank(LEGEND if (r, c) == (0, 1) else ()))
            continue
        layers = pdf_layers(px) if c == r else contour_layers(px, py)
        if c == 0 and r > 0:
            layers += y_label(py)
        if r == 3:
            layers += x_label(px)
        if (r, c) == (0, 0):
            layers.append(anchor_point(-LEFT, -TOP))
        if (r, c) == (3, 3):
            total_w = LEFT + 4 * W + 3 * GAP_X
            total_h = TOP + 4 * H + 3 * GAP_Y
            layers.append(anchor_point(W + CANVAS_W - total_w, H + CANVAS_H - total_h))
        cells.append(alt.layer(*layers).properties(width=W, height=H))

chart = alt.concat(
    *cells, columns=4, spacing={"row": GAP_Y, "column": GAP_X}, bounds="flush", align="all"
).properties(
    padding=0, background="white"
).configure_view(
    stroke="black", strokeWidth=2
).configure_axis(
    grid=True, gridColor="black", gridDash=[2, 4], gridWidth=1.4, gridOpacity=1,
    domain=False, ticks=False, labelFont="DejaVu Sans", labelFontSize=31, labelColor="black",
    labelFlush=False, labelOverlap=False, zindex=1
).configure_axisX(
    labelPadding=8
).configure_axisY(
    labelPadding=10
)

chart.save("out.html", embed_options={"renderer": "svg", "actions": False})
